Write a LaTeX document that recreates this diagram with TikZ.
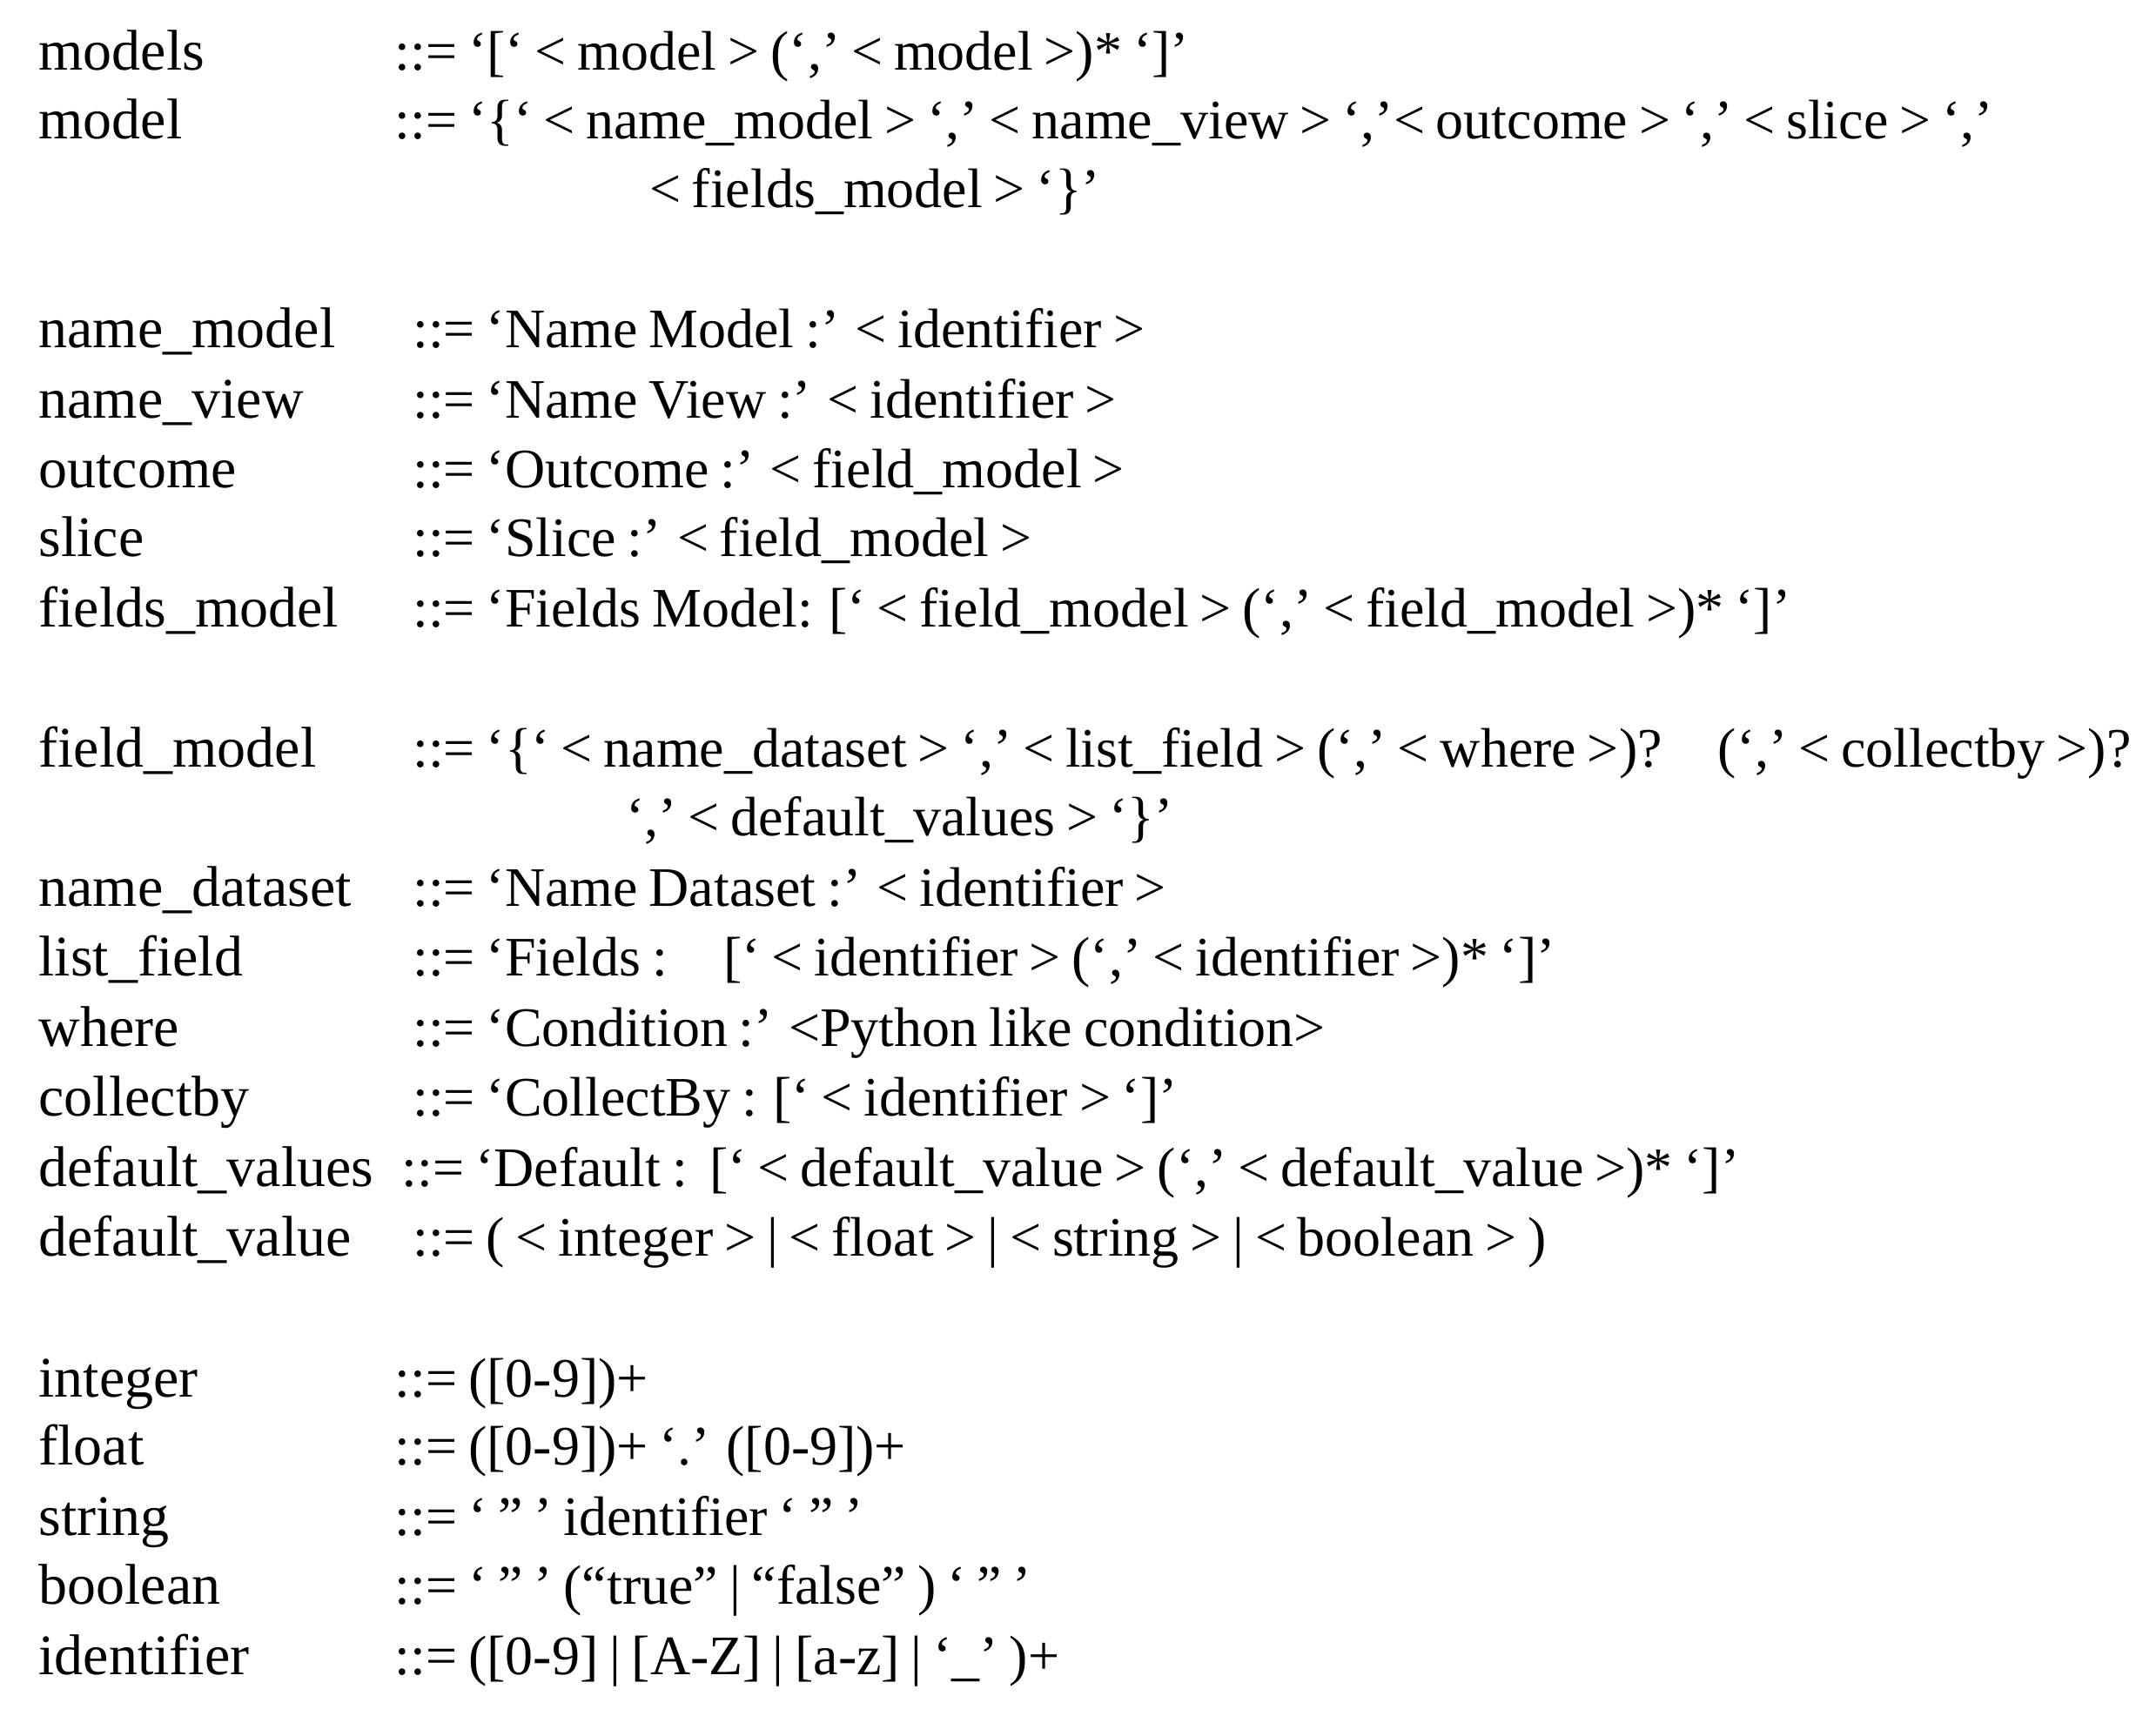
\documentclass[tikz,border=0pt]{standalone}
\usepackage{fontspec}
\setmainfont{Liberation Serif}
\newcommand{\rsp}{\fontsize{32}{38}\selectfont\spaceskip=0.2em plus 0.05em minus 0.05em\relax}
\begin{document}
\begin{tikzpicture}[x=0.79pt,y=-0.79pt,
  t/.style={anchor=base west,inner sep=0pt,font=\fontsize{33}{38}\selectfont},
  r/.style={anchor=base west,inner sep=0pt,font=\rsp}]
\useasboundingbox (0,0) rectangle (1568,1243);
\node[t] (l1) at (28,51) {models};
\node[r] (r1) at (287,51) {::= ‘[‘ < model > (‘,’ < model >)* ‘]’};
\node[t] (l2) at (28,101) {model};
\node[r] (r2) at (287,101) {::= ‘\{‘ < name\_model > ‘,’ < name\_view > ‘,’< outcome > ‘,’ < slice > ‘,’};
\node[r] (r2b) at (472,151) {< fields\_model > ‘\}’};
\node[t] (l3) at (28,253) {name\_model};
\node[r] (r3) at (300,253) {::= ‘Name Model :’ < identifier >};
\node[t] (l4) at (28,304) {name\_view};
\node[r] (r4) at (300,304) {::= ‘Name View :’ < identifier >};
\node[t] (l5) at (28,355) {outcome};
\node[r] (r5) at (300,355) {::= ‘Outcome :’ < field\_model >};
\node[t] (l6) at (28,405) {slice};
\node[r] (r6) at (300,405) {::= ‘Slice :’ < field\_model >};
\node[t] (l7) at (28,456) {fields\_model};
\node[r] (r7) at (300,456) {::= ‘Fields Model: [‘ < field\_model > (‘,’ < field\_model >)* ‘]’};
\node[t] (l8) at (28,558) {field\_model};
\node[r] (r8) at (300,558) {::= ‘\{‘ < name\_dataset > ‘,’ < list\_field > (‘,’ < where >)?\quad (‘,’ < collectby >)?};
\node[r] (r8b) at (455,608) {‘,’ < default\_values > ‘\}’};
\node[t] (l9) at (28,659) {name\_dataset};
\node[r] (r9) at (300,659) {::= ‘Name Dataset :’ < identifier >};
\node[t] (l10) at (28,710) {list\_field};
\node[r] (r10) at (300,710) {::= ‘Fields :\quad [‘ < identifier > (‘,’ < identifier >)* ‘]’};
\node[t] (l11) at (28,761) {where};
\node[r] (r11) at (300,761) {::= ‘Condition :’ <Python like condition>};
\node[t] (l12) at (28,812) {collectby};
\node[r] (r12) at (300,812) {::= ‘CollectBy : [‘ < identifier > ‘]’};
\node[t] (l13) at (28,863) {default\_values};
\node[r] (r13) at (292,863) {::= ‘Default :\ \ [‘ < default\_value > (‘,’ < default\_value >)* ‘]’};
\node[t] (l14) at (28,914) {default\_value};
\node[r] (r14) at (300,914) {::= ( < integer > | < float > | < string > | < boolean > )};
\node[t] (l15) at (28,1016) {integer};
\node[r] (r15) at (287,1016) {::= ([0-9])+};
\node[t] (l16) at (28,1066) {float};
\node[r] (r16) at (287,1066) {::= ([0-9])+ ‘.’ ([0-9])+};
\node[t] (l17) at (28,1117) {string};
\node[r] (r17) at (287,1117) {::= ‘ ” ’ identifier ‘ ” ’};
\node[t] (l18) at (28,1167) {boolean};
\node[r] (r18) at (287,1167) {::= ‘ ” ’ (“true” | “false” ) ‘ ” ’};
\node[t] (l19) at (28,1218) {identifier};
\node[r] (r19) at (287,1218) {::= ([0-9] | [A-Z] | [a-z] | ‘\_’ )+};
\end{tikzpicture}
\end{document}
